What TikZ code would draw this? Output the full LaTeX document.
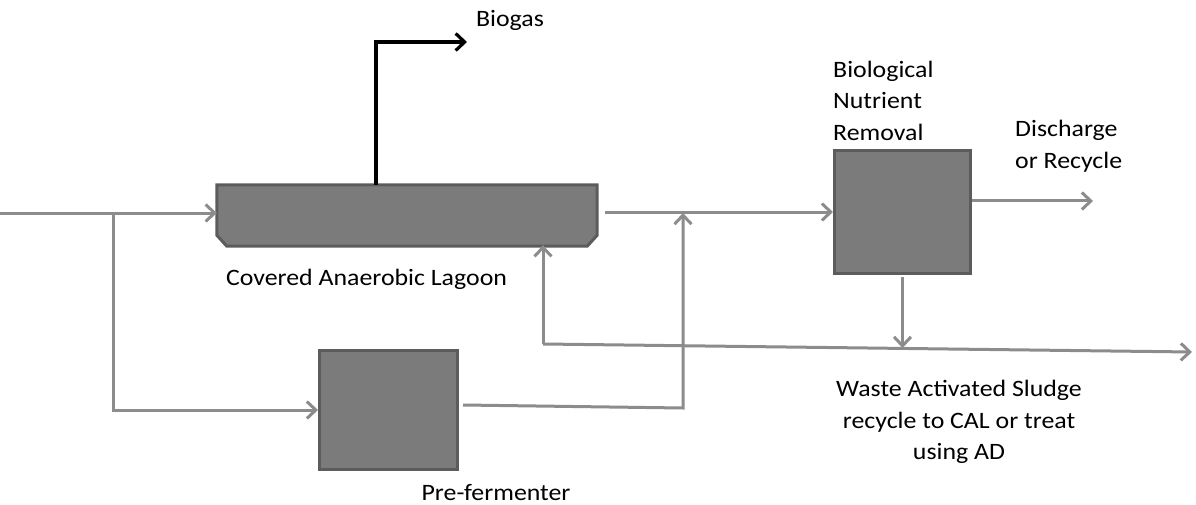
\documentclass[tikz,border=0pt]{standalone}
\usepackage{fontspec}
\setmainfont{Carlito}[FakeStretch=1.1]
\usepackage{tikz}
\usetikzlibrary{arrows.meta,calc}
\definecolor{boxfill}{RGB}{123,123,123}
\definecolor{boxline}{RGB}{92,92,92}
\definecolor{flowgray}{RGB}{140,140,140}
\tikzset{
  tank/.style={draw=boxline, fill=boxfill, line width=3pt, inner sep=0pt},
  flow/.style={draw=flowgray, line width=3pt, -{Straight Barb[length=9pt,width=17pt]}},
  gas/.style={draw=black, line width=3.2pt, -{Straight Barb[length=9pt,width=17pt]}},
  lbl/.style={inner sep=0pt, font=\fontsize{23.5}{31.5}\selectfont}
}
\begin{document}
\begin{tikzpicture}[x=1pt,y=-1pt]
\useasboundingbox (0,0) rectangle (1196,505);
\node[minimum width=380pt, minimum height=61pt, inner sep=0pt] (cal) at (407,215.5) {};
\draw[tank] (cal.north west) -- (cal.north east) -- ([yshift=11pt]cal.south east)
  -- ([xshift=-10pt]cal.south east) -- ([xshift=10pt]cal.south west)
  -- ([yshift=11pt]cal.south west) -- cycle;
\node[tank, minimum width=138pt, minimum height=119pt] (pf) at (388.5,410) {};
\node[tank, minimum width=136pt, minimum height=123pt] (bnr) at (902.5,212) {};
\coordinate (in) at (0,213);
\coordinate (split) at (113,213);
\coordinate (pfturn) at (683,408);
\coordinate (join) at (683,213);
\coordinate (gasup) at (376,42);
\coordinate (gasend) at (467,42);
\coordinate (out) at (1093,201);
\coordinate (wasL) at (543,344);
\coordinate (wasR) at (1192,352);
\draw[flow] (in) -- (in -| cal.west);
\draw[flow] (split) |- (pf.west);
\draw[flow, shorten <=8pt] (cal.east |- bnr.west) -- (bnr.west);
\draw[flow] ([xshift=4pt,yshift=5pt]pf.east) -- (pfturn) -- (join);
\draw[gas] (gasup |- cal.north) -- (gasup) -- (gasend);
\draw[flow] (bnr.east |- out) -- (out);
\draw[flow, shorten <=2pt] (bnr.south) -- (bnr.south |- 0,348);
\draw[flow] (wasL) -- (wasR);
\draw[flow] (wasL) -- ([yshift=1pt]wasL |- cal.south);
\node[lbl, anchor=base] (biogaslbl) at (510,27) {Biogas};
\node[lbl, anchor=base] (callbl) at (366.5,285) {Covered Anaerobic Lagoon};
\node[lbl, anchor=base] (pflbl) at (496,500) {Pre-fermenter};
\node[lbl, align=left, anchor=west] (bnrlbl) at (833,100.5) {Biological\\Nutrient\\Removal};
\node[lbl, align=left, anchor=west] (outlbl) at (1015,146) {Discharge\\or Recycle};
\node[lbl, align=center] (waslbl) at (959,422) {Waste Activated Sludge\\recycle to CAL or treat\\using AD};
\end{tikzpicture}
\end{document}
